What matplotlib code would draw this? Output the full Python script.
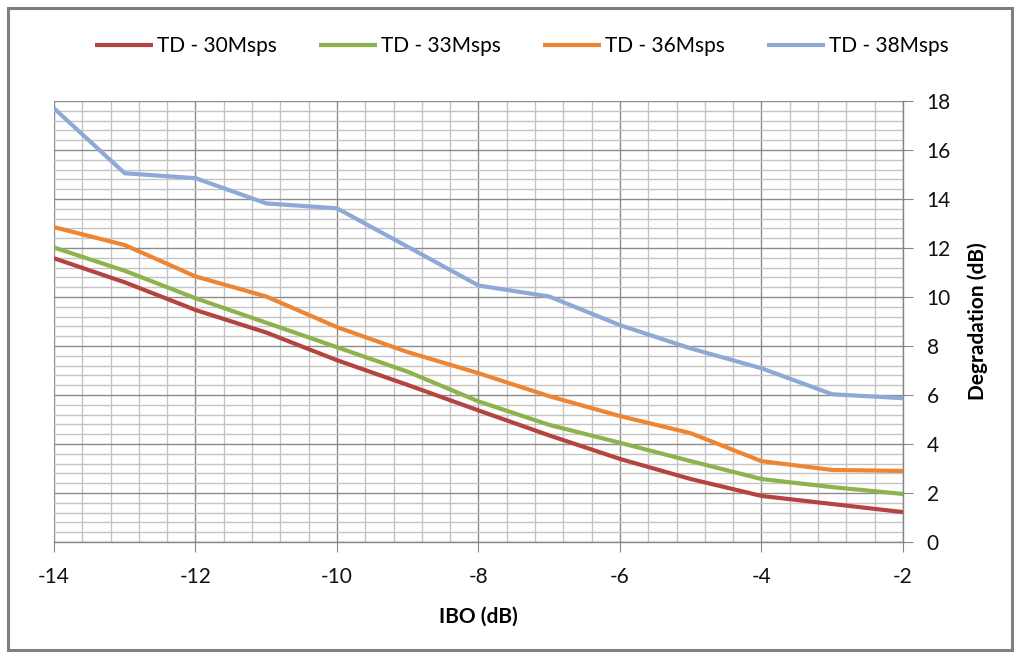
import matplotlib
matplotlib.use("Agg")
import matplotlib.pyplot as plt
from matplotlib.ticker import MultipleLocator
from matplotlib.patches import Rectangle

ibo = [-14, -13, -12, -11, -10, -9, -8, -7, -6, -5, -4, -3, -2]
td30 = [11.58, 10.6, 9.47, 8.55, 7.42, 6.41, 5.37, 4.35, 3.39, 2.57, 1.88, 1.55, 1.22]
td33 = [12.02, 11.07, 9.95, 8.95, 7.95, 6.95, 5.74, 4.78, 4.05, 3.3, 2.57, 2.24, 1.96]
td36 = [12.85, 12.12, 10.84, 10.02, 8.77, 7.75, 6.89, 5.95, 5.14, 4.44, 3.3, 2.94, 2.9]
td38 = [17.7, 15.05, 14.85, 13.82, 13.62, 12.05, 10.47, 10.02, 8.85, 7.9, 7.09, 6.03, 5.87]

series = [
    ("TD - 30Msps", td30, "#B4443F"),
    ("TD - 33Msps", td33, "#8DB34C"),
    ("TD - 36Msps", td36, "#EE8533"),
    ("TD - 38Msps", td38, "#8EA9D6"),
]

plt.rcParams['font.family'] = ['Lato', 'DejaVu Sans']
plt.rcParams['axes.unicode_minus'] = False

FS = 15

fig = plt.figure(figsize=(10.2, 6.58), dpi=100)
fig.patches.append(Rectangle((8/1020, 8/658), 1004/1020, 642/658, transform=fig.transFigure,
                             fill=False, edgecolor="#7f7f7f", linewidth=2.2))
ax = fig.add_axes([54/1020, 1 - 542/658, (903 - 54)/1020, (542 - 101)/658])

for name, vals, col in series:
    ax.plot(ibo, vals, color=col, lw=3.0, label=name, solid_capstyle='butt', zorder=3)

ax.set_xlim(-14, -2)
ax.set_ylim(0, 18)
ax.xaxis.set_major_locator(MultipleLocator(2))
ax.xaxis.set_minor_locator(MultipleLocator(0.4))
ax.yaxis.set_major_locator(MultipleLocator(2))
ax.yaxis.set_minor_locator(MultipleLocator(0.4))
ax.yaxis.tick_right()
ax.yaxis.set_label_position("right")

ax.grid(True, which='major', color="#8c8c8c", lw=1.0)
ax.grid(True, which='minor', color="#c4c4c4", lw=1.0)
ax.set_axisbelow(True)

for s in ['top', 'left']:
    ax.spines[s].set_visible(False)
for s in ['right', 'bottom']:
    ax.spines[s].set_color("#868686")
    ax.spines[s].set_linewidth(1.0)

ax.tick_params(which='major', direction='out', length=7, color="#868686", labelsize=FS,
               labelcolor="#111111")
ax.tick_params(which='minor', length=0)
ax.tick_params(axis='x', pad=11)
ax.tick_params(axis='y', pad=10)

ax.set_xlabel("IBO (dB)", fontsize=FS, fontweight='bold', labelpad=14)
ax.set_ylabel("Degradation (dB)", fontsize=FS, fontweight='bold', labelpad=12)

fig.legend(loc='center', bbox_to_anchor=(522/1020, 1 - 46/658), ncol=4, frameon=False,
           fontsize=FS, handlelength=2.8, handletextpad=0.2, columnspacing=2.0)

fig.savefig("out.png", dpi=100)
